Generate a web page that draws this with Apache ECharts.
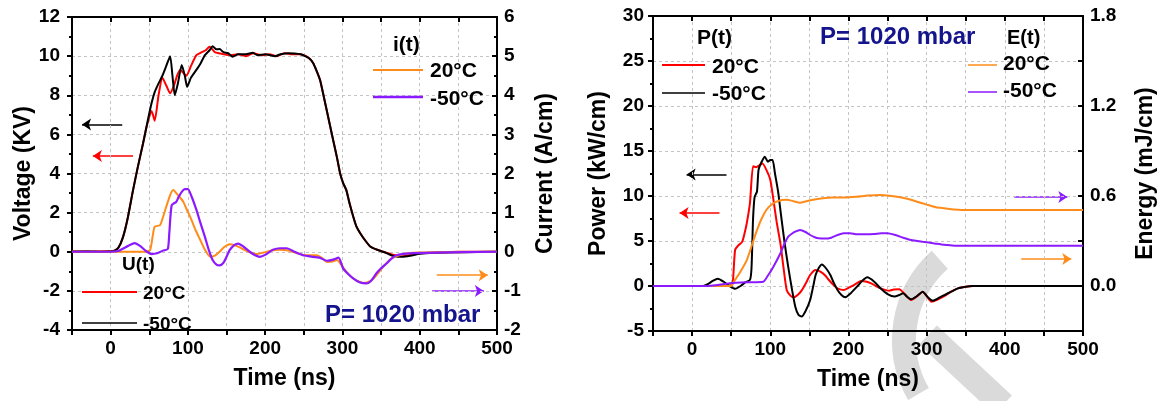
<!DOCTYPE html>
<html><head><meta charset="utf-8">
<script src="https://cdn.jsdelivr.net/npm/echarts@6/dist/echarts.min.js"></script>
<style>html,body{margin:0;padding:0;background:#fff}#c{width:1161px;height:401px}</style>
</head><body><div id="c"></div>
<script>
// ---- data: [time (ns), value] ----
const uRed20 = [[-50,0.02],[-30,0.0],[-10,0.03],[0,0.02],[5,0.05],[10,0.2],[16,0.75],[22,1.7],[29,3.15],[35,4.3],[42,5.55],[46,6.3],[50,6.9],[53,7.2],[57,6.7],[62,8.0],[67,8.9],[72,8.5],[77,8.1],[82,8.5],[86,9.0],[90,9.3],[95,9.1],[98,9.0],[104,9.5],[111,10.05],[118,10.2],[123,10.3],[128,10.48],[135,10.2],[140,10.15],[146,10.1],[155,10.05],[165,10.1],[175,10.0],[185,10.15],[195,10.05],[205,10.1],[215,10.0],[225,10.15],[235,10.1],[245,10.1],[253,10.0],[258,9.85],[262,9.65],[266,9.3],[271,8.78],[276,7.9],[282,6.8],[288,5.7],[293,4.8],[297,4.0],[301,3.5],[305,3.15],[309,2.5],[314,1.79],[318,1.3],[323,0.95],[330,0.55],[336,0.27],[345,0.1],[357,-0.05],[365,-0.15],[378,-0.22],[390,-0.15],[400,-0.08],[420,-0.04],[450,0],[500,0]];
const uBlack50 = [[-50,0],[-30,0.02],[-10,0],[0,0.02],[5,0.05],[10,0.2],[16,0.75],[22,1.7],[29,3.15],[35,4.3],[42,5.55],[48,6.7],[53,7.6],[57,8.16],[62,8.6],[67,9.0],[72,9.5],[77,10.0],[80,9.0],[83,8.0],[87,8.6],[92,9.55],[96,9.0],[99,8.43],[104,8.9],[111,9.3],[116,9.6],[122,10.05],[128,10.3],[132,10.5],[137,10.35],[141,10.36],[146,10.2],[152,10.15],[158,9.97],[165,10.1],[175,10.1],[184,10.17],[190,10.05],[200,10.1],[213,10.0],[220,10.1],[230,10.15],[238,10.14],[246,10.1],[253,9.97],[258,9.85],[262,9.65],[266,9.3],[271,8.78],[276,7.9],[282,6.8],[288,5.7],[293,4.8],[297,4.0],[301,3.5],[305,3.15],[309,2.5],[314,1.79],[318,1.3],[323,0.95],[330,0.55],[336,0.27],[345,0.1],[357,-0.07],[365,-0.2],[378,-0.26],[388,-0.2],[400,-0.1],[420,-0.05],[450,-0.02],[500,0]];
const iOrange20 = [[-50,0],[0,0],[30,0],[45,0],[51,0.04],[54,0.35],[57,0.64],[64,0.68],[68,0.9],[72,1.15],[77,1.45],[81,1.58],[87,1.45],[94,1.28],[98,1.1],[103,0.89],[110,0.55],[116,0.3],[122,0.05],[129,-0.13],[135,-0.1],[141,0],[147,0.12],[154,0.19],[160,0.17],[167,0.11],[175,0.03],[182,-0.03],[189,-0.06],[198,-0.02],[208,0.03],[219,0.05],[230,0.03],[240,-0.03],[253,-0.09],[267,-0.09],[273,-0.15],[280,-0.26],[287,-0.25],[293,-0.21],[299,-0.35],[305,-0.51],[315,-0.7],[327,-0.8],[336,-0.75],[344,-0.6],[352,-0.4],[361,-0.21],[368,-0.13],[374,-0.09],[385,-0.04],[400,-0.02],[450,-0.01],[500,0]];
const iPurple50 = [[-50,0],[0,0],[10,0.02],[20,0.12],[31,0.22],[38,0.15],[45,0.03],[53,-0.06],[60,-0.04],[68,0.03],[74,0.07],[76,0.5],[79,1.19],[85,1.28],[88,1.4],[92,1.53],[96,1.6],[100,1.6],[105,1.4],[111,1.07],[116,0.75],[122,0.38],[127,0.05],[132,-0.21],[137,-0.33],[141,-0.35],[146,-0.28],[150,-0.13],[154,0.04],[160,0.17],[165,0.21],[172,0.13],[180,0.0],[187,-0.09],[193,-0.13],[200,-0.08],[210,0.05],[219,0.09],[228,0.09],[238,0.0],[249,-0.09],[262,-0.13],[270,-0.15],[280,-0.23],[288,-0.2],[295,-0.15],[301,-0.43],[308,-0.58],[314,-0.68],[322,-0.78],[331,-0.81],[338,-0.72],[344,-0.55],[350,-0.42],[357,-0.3],[363,-0.18],[370,-0.09],[387,-0.04],[420,-0.02],[500,0]];
const pRed20 = [[-50,0],[0,0],[40,0],[50,0.1],[52,0.3],[55,4.0],[59,4.5],[64,4.9],[67,5.8],[70,7.0],[74,9.2],[78,13.3],[82,13.2],[86,13.4],[90,13.6],[95,12.9],[100,11.8],[104,9.6],[108,7.2],[113,4.7],[117,2.0],[121,-0.44],[126,-1.1],[130,-1.26],[135,-1.0],[140,-0.52],[146,0.4],[151,1.22],[158,1.78],[164,1.6],[170,1.2],[175,0.67],[181,0.1],[186,-0.26],[194,-0.44],[200,-0.2],[207,0.11],[216,0.55],[222,0.5],[229,0.3],[235,0.0],[241,-0.26],[252,-0.52],[258,-0.4],[265,-0.37],[272,-0.9],[280,-1.56],[287,-1.2],[295,-0.63],[300,-1.1],[306,-1.74],[314,-1.5],[323,-1.1],[332,-0.6],[340,-0.26],[350,-0.08],[360,0],[500,0]];
const pBlack50 = [[-50,0],[0,0],[14,0],[20,0.2],[27,0.6],[33,0.81],[40,0.5],[48,0.0],[55,-0.3],[62,0.0],[68,0.4],[74,0.67],[76,2.0],[78,7.5],[80,9.9],[83,10.5],[85,12.9],[89,13.8],[93,14.37],[97,13.8],[100,14.0],[103,14.0],[106,12.5],[110,10.5],[113,8.4],[118,5.0],[123,2.1],[128,-0.5],[132,-2.3],[136,-3.2],[140,-3.4],[145,-2.8],[151,-1.56],[155,0.0],[158,1.22],[162,2.0],[166,2.4],[171,2.0],[177,1.2],[181,0.4],[186,-0.44],[191,-1.0],[196,-1.26],[203,-0.8],[211,-0.07],[218,0.6],[224,0.96],[233,0.48],[241,-0.26],[250,-0.9],[259,-1.18],[265,-1.0],[270,-0.8],[275,-1.2],[280,-1.48],[288,-1.1],[295,-0.63],[301,-1.2],[308,-1.63],[315,-1.35],[323,-1.0],[332,-0.6],[340,-0.26],[350,-0.08],[358,0],[500,0]];
const eOrange20 = [[-50,0],[50,0],[52,0.018],[60,0.08],[70,0.173],[77,0.28],[83,0.373],[89,0.45],[95,0.507],[101,0.54],[108,0.562],[115,0.573],[121,0.575],[130,0.565],[138,0.555],[146,0.565],[155,0.575],[165,0.583],[180,0.59],[195,0.59],[210,0.595],[225,0.603],[240,0.607],[255,0.6],[268,0.59],[280,0.575],[290,0.558],[302,0.54],[312,0.525],[323,0.518],[335,0.51],[345,0.507],[400,0.507],[500,0.507]];
const ePurple50 = [[-50,0],[20,0],[30,0.005],[48,0.018],[70,0.025],[91,0.029],[97,0.07],[104,0.129],[113,0.218],[118,0.28],[123,0.329],[128,0.35],[132,0.362],[138,0.373],[145,0.36],[151,0.34],[157,0.325],[162,0.318],[170,0.316],[178,0.322],[186,0.34],[194,0.352],[202,0.352],[211,0.345],[222,0.345],[233,0.347],[242,0.352],[250,0.351],[260,0.34],[270,0.322],[280,0.307],[295,0.295],[310,0.284],[322,0.275],[336,0.269],[360,0.268],[500,0.268]];
const timeRange = [-50, 500];
const voltageRange = [-4, 12];
const currentRange = [-2, 6];
const powerRange = [-5, 30];
const energyRange = [-0.3, 1.8];
const energyLabels = ['0.0','0.6','1.2','1.8'];

const RED='#ff0000', BLACK='#000000', ORANGE='#ff8c1a', PURPLE='#8c1aff', NAVY='#14148c';
const FONT='"Liberation Sans", Arial, sans-serif';
const lbl = {color:'#000', fontFamily:FONT, fontWeight:'bold', fontSize:19};
const nameStyle = {color:'#000', fontFamily:FONT, fontWeight:'bold', fontSize:23};
const gridLine = {show:true, lineStyle:{color:'#c4c4c4', type:[3,3], width:1}};
const axLine = {show:true, onZero:false, lineStyle:{color:'#000', width:2}};

function xMain(gi, gap){
  return {type:'value', gridIndex:gi, z:10, min:timeRange[0], max:timeRange[1], interval:50, position:'bottom',
    axisLine:axLine, axisTick:{show:true, inside:false, length:5, lineStyle:{width:2}},
    axisLabel:Object.assign({margin:9, formatter:v=> (v%100===0? String(v):'')}, lbl),
    splitLine:gridLine, name:'Time (ns)', nameLocation:'middle', nameGap:gap, nameTextStyle:nameStyle};
}
function xTop(gi){
  return {type:'value', gridIndex:gi, z:10, min:timeRange[0], max:timeRange[1], interval:50, position:'top',
    axisLine:axLine, axisTick:{show:true, inside:true, length:5, lineStyle:{width:2}},
    axisLabel:{show:false}, splitLine:{show:false}};
}
function arrow(from, to, color){
  return {symbol:['none','arrow'], symbolSize:9, silent:true, animation:false, label:{show:false},
    lineStyle:{color:color, width:1.5, type:'solid'}, emphasis:{disabled:true},
    data:[[{coord:from},{coord:to}]]};
}
function line(name, data, color, xi, yi, width, ml){
  const s = {name, type:'line', data, xAxisIndex:xi, yAxisIndex:yi, showSymbol:false, symbol:'none',
    smooth:0.2, lineStyle:{color, width}, itemStyle:{color}, animation:false, z:12};
  if(ml) s.markLine = ml;
  return s;
}
function txt(x,y,t,size,color){
  return {type:'text', x, y, z:50, style:{text:t, fill:color||'#000', font:'bold '+size+'px '+FONT, textAlign:'left', textVerticalAlign:'middle'}};
}
function seg(x1,x2,y,color,w){
  return {type:'line', z:50, shape:{x1,y1:y,x2,y2:y}, style:{stroke:color, lineWidth:w}};
}

const chart = echarts.init(document.getElementById('c'), null, {renderer:'canvas'});
chart.setOption({
  backgroundColor:'#fff',
  animation:false,
  grid:[{left:72, top:17, width:425, height:313}, {left:653, top:16, width:430, height:315}],
  xAxis:[xMain(0,37), xTop(0), xMain(1,37), xTop(1)],
  yAxis:[
    {type:'value', gridIndex:0, z:10, min:voltageRange[0], max:voltageRange[1], interval:2, position:'left',
     axisLine:axLine, axisTick:{show:true, inside:false, length:5, lineStyle:{width:2}},
     minorTick:{show:true, splitNumber:2, length:3, lineStyle:{color:'#000', width:2}},
     axisLabel:Object.assign({margin:12}, lbl), splitLine:gridLine,
     name:'Voltage (KV)', nameLocation:'middle', nameRotate:90, nameGap:36, nameTextStyle:nameStyle},
    {type:'value', gridIndex:0, z:10, min:currentRange[0], max:currentRange[1], interval:1, position:'right',
     axisLine:axLine, axisTick:{show:true, inside:true, length:5, lineStyle:{width:2}},
     minorTick:{show:true, splitNumber:2, length:3, lineStyle:{color:'#000', width:2}},
     axisLabel:Object.assign({margin:7}, lbl), splitLine:{show:false},
     name:'Current (A/cm)', nameLocation:'middle', nameRotate:90, nameGap:37, nameTextStyle:nameStyle},
    {type:'value', gridIndex:1, z:10, min:powerRange[0], max:powerRange[1], interval:5, position:'left',
     axisLine:axLine, axisTick:{show:true, inside:false, length:5, lineStyle:{width:2}},
     minorTick:{show:true, splitNumber:2, length:3, lineStyle:{color:'#000', width:2}},
     axisLabel:Object.assign({margin:9}, lbl), splitLine:gridLine,
     name:'Power (kW/cm)', nameLocation:'middle', nameRotate:90, nameGap:43, nameTextStyle:nameStyle},
    {type:'value', gridIndex:1, z:10, min:energyRange[0], max:energyRange[1], interval:0.3, position:'right',
     axisLine:axLine, axisTick:{show:true, inside:true, length:5, lineStyle:{width:2}},
     axisLabel:Object.assign({margin:7, formatter:v=>{const k=Math.round(v/0.3); return (k>=0 && k%2===0)? energyLabels[k/2]:'';}}, lbl),
     splitLine:{show:false},
     name:'Energy (mJ/cm)', nameLocation:'middle', nameRotate:90, nameGap:51, nameTextStyle:nameStyle}
  ],
  series:[
    line('U 20°C', uRed20, RED, 0, 0, 2, arrow([29,4.9],[-23,4.9],RED)),
    line('U -50°C', uBlack50, BLACK, 0, 0, 2, arrow([15,6.5],[-37,6.5],BLACK)),
    line('i 20°C', iOrange20, ORANGE, 0, 1, 2, arrow([422,-0.6],[488,-0.6],ORANGE)),
    line('i -50°C', iPurple50, PURPLE, 0, 1, 2.2, arrow([416,-1.0],[483,-1.0],PURPLE)),
    line('P 20°C', pRed20, RED, 2, 2, 2, arrow([35,8.1],[-16,8.1],RED)),
    line('P -50°C', pBlack50, BLACK, 2, 2, 2, arrow([44,12.4],[-7,12.4],BLACK)),
    line('E 20°C', eOrange20, ORANGE, 2, 3, 2, arrow([421,0.18],[485,0.18],ORANGE)),
    line('E -50°C', ePurple50, PURPLE, 2, 3, 2, arrow([412,0.593],[480,0.593],PURPLE))
  ],
  graphic:[
    {type:'arc', z:-10, zlevel:0, silent:true, shape:{cx:1012, cy:340, r:108, startAngle:Math.PI*150/180, endAngle:Math.PI*228/180},
     style:{stroke:'#dadada', lineWidth:24, fill:null}},
    {type:'line', z:-10, zlevel:0, silent:true, shape:{x1:928, y1:335, x2:1003, y2:405}, style:{stroke:'#dadada', lineWidth:26}},
    // left chart legends
    txt(393,45,'i(t)',21), seg(373,423,70,ORANGE,2), txt(430,71,'20°C',21), seg(373,423,97,PURPLE,2.5), txt(430,99,'-50°C',21),
    txt(122,265,'U(t)',19), seg(82,137,292,RED,2), txt(143,294,'20°C',19), seg(82,137,323,BLACK,1.5), txt(143,325,'-50°C',19),
    txt(325,315,'P= 1020 mbar',24,NAVY),
    // right chart legends
    txt(697,38,'P(t)',21), seg(662,705,65,RED,2), txt(712,67,'20°C',21), seg(662,705,93,BLACK,1.5), txt(712,94,'-50°C',21),
    txt(820,37,'P= 1020 mbar',24,NAVY),
    txt(1007,38,'E(t)',20), seg(968,997,65,ORANGE,1.5), txt(1003,64,'20°C',21), seg(968,997,92,PURPLE,1.5), txt(1003,91,'-50°C',21)
  ]
});
</script></body></html>
